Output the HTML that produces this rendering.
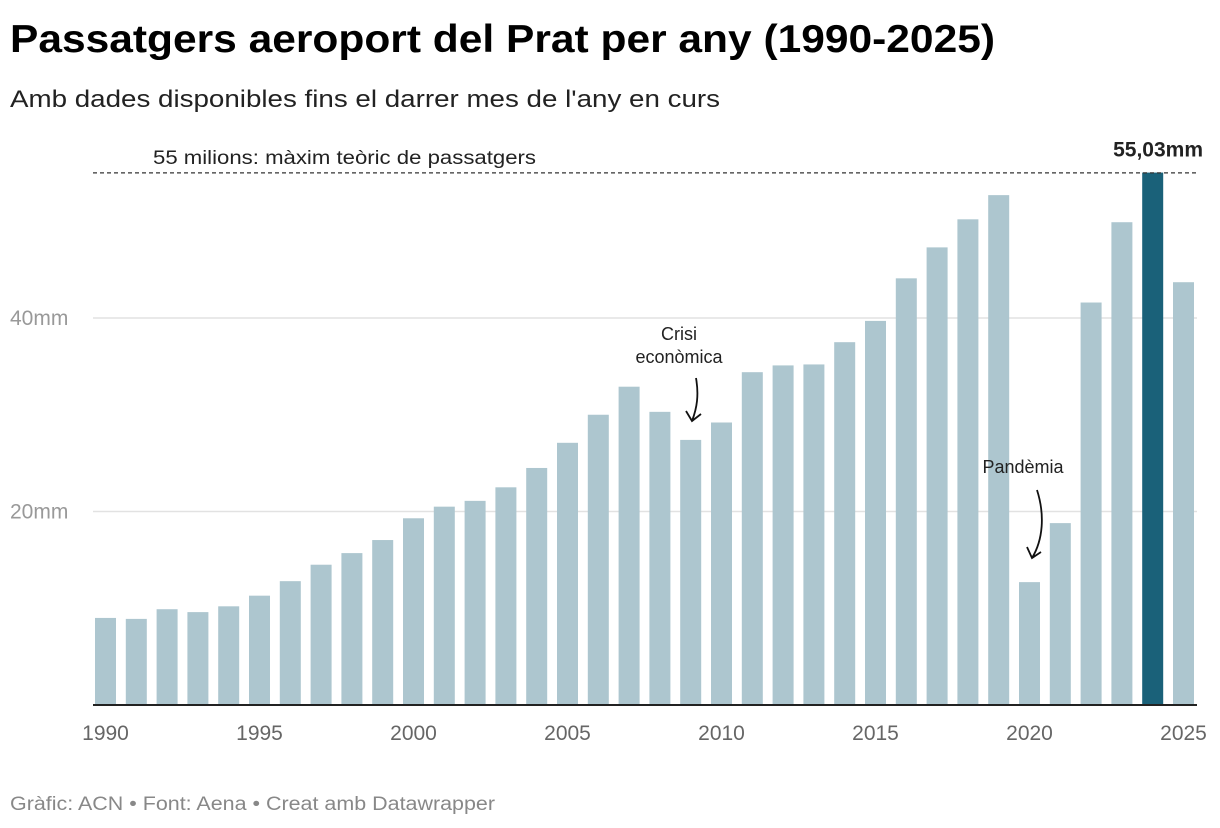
<!DOCTYPE html>
<html><head><meta charset="utf-8"><style>
body{margin:0;background:#fff;width:1220px;height:828px;overflow:hidden;font-family:"Liberation Sans",sans-serif}
</style></head><body>
<svg width="1220" height="828" style="position:absolute;left:0;top:0">
<text x="10" y="52" font-size="39" font-weight="bold" fill="#000" textLength="985" lengthAdjust="spacingAndGlyphs">Passatgers aeroport del Prat per any (1990-2025)</text>
<text x="10" y="107" font-size="24" fill="#222" textLength="710" lengthAdjust="spacingAndGlyphs">Amb dades disponibles fins el darrer mes de l'any en curs</text>
<g id="grid"></g>
<g id="bars"></g>
<g id="xaxis"></g>
<g id="annot"></g>
<text x="10" y="810" font-size="19" fill="#888" textLength="485" lengthAdjust="spacingAndGlyphs">Gràfic: ACN • Font: Aena • Creat amb Datawrapper</text>
</svg>
<script>
const years=[];for(let y=1990;y<=2025;y++)years.push(y);
const values=[9.0,8.9,9.9,9.6,10.2,11.3,12.8,14.5,15.7,17.05,19.3,20.5,21.1,22.5,24.5,27.1,30.0,32.9,30.3,27.4,29.2,34.4,35.1,35.2,37.5,39.7,44.1,47.3,50.2,52.7,12.7,18.8,41.6,49.9,55.03,43.7];
const yTicks=[20,40];
const yTickLabels=["20mm","40mm"];
const xTickYears=[1990,1995,2000,2005,2010,2015,2020,2025];
const highlightYear=2024;
const capValue=55;
const NS="http://www.w3.org/2000/svg";
const base=705,k=9.675,x0=105.5,step=30.8,bw=21;
const yS=v=>base-v*k, xS=yr=>x0+(yr-1990)*step;
function mk(t,a,p){const e=document.createElementNS(NS,t);for(const n in a)e.setAttribute(n,a[n]);p.appendChild(e);return e;}
const grid=document.getElementById('grid');
yTicks.forEach((v,i)=>{
 const l=mk('line',{x1:93,x2:1197,y1:yS(v),y2:yS(v),stroke:'#e2e2e2','stroke-width':1.5},grid);
 
 
 const t=mk('text',{x:10,y:yS(v)+7,'font-size':21,fill:'#999'},grid);t.textContent=yTickLabels[i];
 
 
});
const bars=document.getElementById('bars');
years.forEach((yr,i)=>{
 const r=mk('rect',{x:xS(yr)-bw/2,y:yS(values[i]),width:bw,height:base-yS(values[i]),fill:yr===highlightYear?'#1a6179':'#adc6cf'},bars);
 
 
});
const xa=document.getElementById('xaxis');
const ax=mk('line',{x1:93,x2:1197,y1:base,y2:base,stroke:'#222','stroke-width':2},xa);


xTickYears.forEach(yr=>{
 const t=mk('text',{x:xS(yr),y:740,'font-size':21,fill:'#666','text-anchor':'middle'},xa);t.textContent=yr;
 
 
});
const an=document.getElementById('annot');
const cap=mk('line',{x1:93,x2:1197,y1:yS(capValue),y2:yS(capValue),stroke:'#333','stroke-width':1.3,'stroke-dasharray':'4,3'},an);


let t=mk('text',{x:153,y:yS(capValue)-9,'font-size':19,fill:'#222',textLength:383,lengthAdjust:'spacingAndGlyphs'},an);t.textContent='55 milions: màxim teòric de passatgers';


const hi=years.indexOf(highlightYear);
t=mk('text',{x:1203,y:yS(values[hi])-16,'font-size':21,'font-weight':'bold',fill:'#222','text-anchor':'end'},an);t.textContent=values[hi].toFixed(2).replace('.',',')+'mm';


t=mk('text',{x:679,y:340,'font-size':18,fill:'#222','text-anchor':'middle'},an);t.textContent='Crisi';


t=mk('text',{x:679,y:363,'font-size':18,fill:'#222','text-anchor':'middle'},an);t.textContent='econòmica';


let p=mk('path',{d:'M696,378 C699,395 697,408 692,421 M686,411 L692,421 L701,414',stroke:'#111','stroke-width':1.8,fill:'none'},an);


t=mk('text',{x:1023,y:473,'font-size':18,fill:'#222','text-anchor':'middle'},an);t.textContent='Pandèmia';


p=mk('path',{d:'M1037,490 C1045,515 1043,540 1032,558 M1027,547 L1032,558 L1041,552',stroke:'#111','stroke-width':1.8,fill:'none'},an);


</script>
</body></html>
